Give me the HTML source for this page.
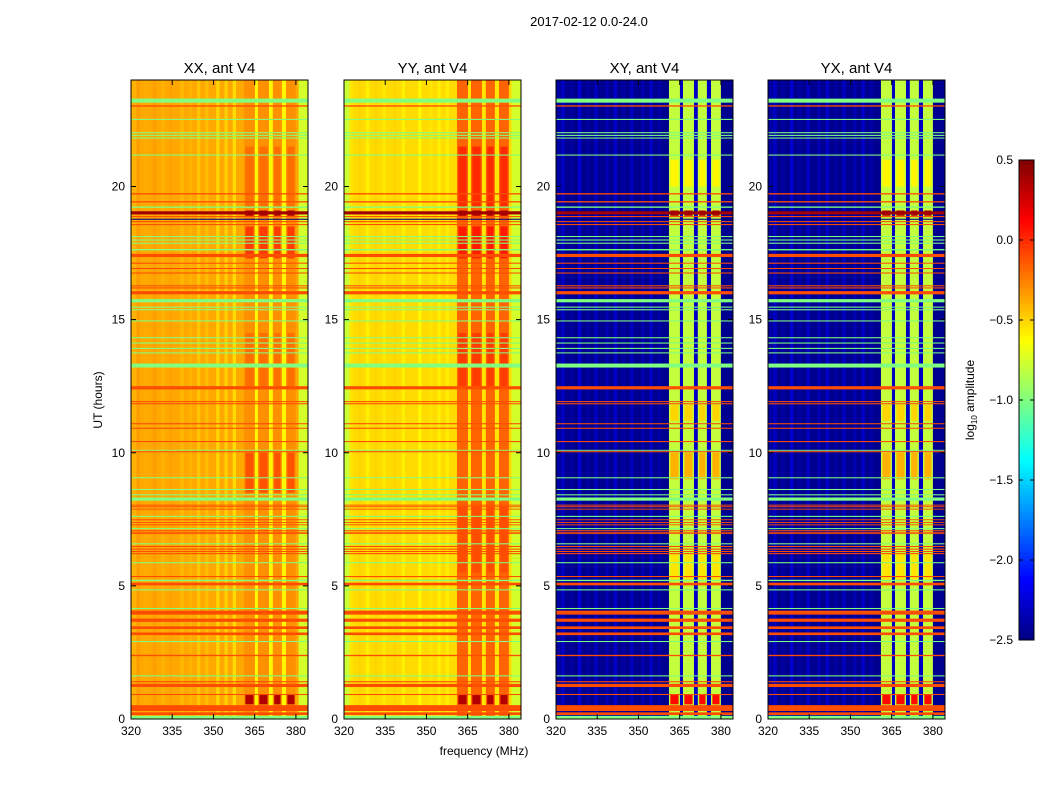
<!DOCTYPE html>
<html><head><meta charset="utf-8"><style>
body{margin:0;background:#fff;}
svg{display:block;font-family:"Liberation Sans","DejaVu Sans",sans-serif;}
</style></head><body>
<svg id="fig" width="1050" height="800" viewBox="0 0 1050 800">
<rect width="1050" height="800" fill="#fff"/>
<text x="589" y="26" font-size="13" text-anchor="middle">2017-02-12 0.0-24.0</text>
<text x="484" y="755" font-size="12" text-anchor="middle">frequency (MHz)</text>
<text transform="translate(102,400) rotate(-90)" font-size="12" text-anchor="middle">UT (hours)</text>
<text transform="translate(974,400) rotate(-90)" font-size="12" text-anchor="middle">log<tspan font-size="8" dy="3">10</tspan><tspan dy="-3"> amplitude</tspan></text>
<g id="panels"></g>
<g id="cbar"></g>
</svg>
<script>
// ---- data ----
const panelTitles = ["XX, ant V4","YY, ant V4","XY, ant V4","YX, ant V4"];
const baseValues = [-0.37, -0.52, -2.45, -2.45];
const leftEdgeValues = [-0.4, -0.78, -2.4, -2.4];
const rightEdgeValues = [-0.75, -0.75, -2.45, -2.45];
const bandValues = [-0.3, -0.17, -0.8, -0.8];
const gapValues = [-0.6, -0.55, -2.3, -2.3];
const bandStarts = [361.1, 366.2, 371.6, 376.4];
const bandEnds = [365.1, 370.2, 374.9, 380.0];
const streakFreqs = [322,325,328,331,334,338,341,344,347,351,354,357];
const streakValues = [[-0.33,-0.38,-0.34,-0.4,-0.35,-0.42,-0.4,-0.45,-0.43,-0.5,-0.48,-0.52],
                      [-0.55,-0.5,-0.58,-0.5,-0.56,-0.5,-0.58,-0.52,-0.6,-0.55,-0.58,-0.57],
                      [-2.3,-2.4,-2.25,-2.4,-2.3,-2.35,-2.28,-2.4,-2.3,-2.35,-2.28,-2.38],
                      [-2.3,-2.4,-2.25,-2.4,-2.3,-2.35,-2.28,-2.4,-2.3,-2.35,-2.28,-2.38]];
// patches inside bands: panel, h0, h1, value
const patchPanel = [0,0,0,0,1,1,1,1,2,2,2,2,3,3,3,3,0,1,2,3,0,1,2,3];
const patchH0 = [17.3,19.2,12.5,8.5, 17.3,19.2,12.5,5.5, 9.0,5.2,11.2,20.0, 9.0,5.2,11.2,20.0, 0.55,0.55,0.55,0.55, 18.9,18.9,18.9,18.9];
const patchH1 = [18.5,21.5,14.5,10.0, 18.5,21.5,14.5,8.0, 10.0,6.2,11.8,21.0, 10.0,6.2,11.8,21.0, 0.9,0.9,0.9,0.9, 19.1,19.1,19.1,19.1];
const patchValues = [-0.05,-0.2,-0.2,-0.12, 0.05,0.0,-0.05,-0.1, -0.4,-0.55,-0.5,-0.6, -0.4,-0.55,-0.5,-0.6, 0.35,0.35,0.1,0.1, 0.35,0.35,0.35,0.35];
// horizontal RFI stripes (hours, thickness in hours, value)
const stripeHours = [0,0.15,0.3,0.9,1.2,1.38,1.6,2.36,2.89,3.15,3.38,3.65,3.92,4.13,4.83,5.02,5.18,5.33,5.85,6.19,6.27,6.36,6.46,6.56,6.95,7.0,7.06,7.13,7.28,7.37,7.47,7.59,7.87,7.96,8.02,8.2,8.4,8.6,9.04,10.02,10.08,10.4,10.9,11.07,11.82,11.9,12.38,13.2,13.73,13.9,14.1,14.3,14.93,15.35,15.45,15.65,15.95,16.17,16.25,16.73,16.9,17.1,17.35,17.6,17.85,17.97,18.1,18.55,18.66,18.75,18.85,18.95,19.2,19.4,19.7,21.16,21.8,21.9,22.0,22.5,23.0,23.15];
const stripeWidths = [0.12,0.1,0.22,0.04,0.12,0.04,0.04,0.05,0.04,0.1,0.1,0.12,0.15,0.04,0.04,0.1,0.05,0.04,0.04,0.04,0.04,0.04,0.04,0.04,0.03,0.03,0.03,0.04,0.03,0.03,0.03,0.04,0.03,0.03,0.03,0.12,0.04,0.04,0.04,0.04,0.03,0.04,0.04,0.04,0.04,0.04,0.12,0.15,0.04,0.04,0.04,0.04,0.04,0.04,0.04,0.12,0.12,0.04,0.04,0.04,0.04,0.04,0.12,0.05,0.04,0.04,0.04,0.04,0.04,0.04,0.04,0.12,0.05,0.05,0.05,0.04,0.04,0.04,0.04,0.04,0.05,0.15];
const stripeValues = [-1,-0.1,-0.1,-0.1,-0.1,-0.1,-1,-0.1,-1,-0.1,-0.1,-0.1,-0.1,-1,-1,-0.1,-1,-0.1,-1,-0.1,-0.1,-0.1,-0.1,-1,-0.1,-0.1,-0.1,-1,-0.1,-0.1,-0.1,-1,-0.1,-0.1,-0.1,-1,-1,-1,-1,-0.1,-1,-0.1,-0.1,-0.1,-0.1,-0.1,-0.1,-1,-1,-1,-1,-1,-1,-1,-1,-1,-0.1,-0.1,-0.1,-0.1,-0.1,-0.1,-0.1,-1,-1,-1,-1,-0.1,-0.1,-2.5,-0.1,0.4,-1,-0.1,-0.1,-1,-1,-1,-1,-1,-0.1,-1];
const xTicks = [320,335,350,365,380];
const yTicks = [0,5,10,15,20];
const cbTicks = [0.5,0.0,-0.5,-1.0,-1.5,-2.0,-2.5];
const cbLabels = ["0.5","0.0","\u22120.5","\u22121.0","\u22121.5","\u22122.0","\u22122.5"];

// ---- layout ----
const NS = "http://www.w3.org/2000/svg";
const panelX = [131,344,556,768], PW = 177, PT = 80, PB = 719;
const FMIN = 320, FMAX = 384.4, HMIN = 0, HMAX = 24;
const VMIN = -2.5, VMAX = 0.5;
function xs(p,f){ return panelX[p] + (f-FMIN)/(FMAX-FMIN)*PW; }
function ys(h){ return PB - (h-HMIN)/(HMAX-HMIN)*(PB-PT); }
function jet(v){
  let t = Math.max(0,Math.min(1,(v-VMIN)/(VMAX-VMIN)));
  const c = x => Math.round(255*Math.max(0,Math.min(1,x)));
  return `rgb(${c(1.5-Math.abs(4*t-3))},${c(1.5-Math.abs(4*t-2))},${c(1.5-Math.abs(4*t-1))})`;
}
function mk(tag, attrs, parent){
  const e = document.createElementNS(NS, tag);
  for (const k in attrs) e.setAttribute(k, attrs[k]);
  parent.appendChild(e); return e;
}
function rectF(g,p,f0,f1,h0,h1,v){
  return mk("rect",{x:xs(p,f0),y:ys(h1),width:Math.max(0.5,xs(p,f1)-xs(p,f0)),height:Math.max(0.9,ys(h0)-ys(h1)),fill:jet(v)},g);
}
const root = document.getElementById("panels");
for (let p=0;p<4;p++){
  const g = mk("g",{},root);
  
  
  rectF(g,p,FMIN,FMAX,0,24,baseValues[p]);
  rectF(g,p,FMIN,323,0,24,leftEdgeValues[p]);
  for (let i=0;i<streakFreqs.length;i++){
    const s = rectF(g,p,streakFreqs[i],streakFreqs[i]+1.2,0,24,streakValues[p][i]);
    
    
  }
  rectF(g,p,bandStarts[0],bandEnds[bandEnds.length-1],0,24,gapValues[p]);
  rectF(g,p,381,FMAX,0,24,rightEdgeValues[p]);
  for (let b=0;b<bandStarts.length;b++){
    const r = rectF(g,p,bandStarts[b],bandEnds[b],0,24,bandValues[p]);
    
    
  }
  for (let k=0;k<patchPanel.length;k++){
    if (patchPanel[k]!==p) continue;
    for (let b=0;b<bandStarts.length;b++){
      const r = rectF(g,p,bandStarts[b]+0.5,bandEnds[b]-0.5,patchH0[k],patchH1[k],patchValues[k]);
      
      
    }
  }
  for (let i=0;i<stripeHours.length;i++){
    const r = rectF(g,p,FMIN,FMAX,stripeHours[i],stripeHours[i]+stripeWidths[i],stripeValues[i]);
    
    
  }
  const fr = mk("rect",{x:panelX[p],y:PT,width:PW,height:PB-PT,fill:"none",stroke:"#000","stroke-width":1},g);
  
  
  const t = mk("text",{x:panelX[p]+PW/2,y:73,"font-size":15,"text-anchor":"middle"},g);
  t.textContent = panelTitles[p];
  
  
  for (const f of xTicks){
    const x = xs(p,f);
    mk("line",{x1:x,x2:x,y1:PB,y2:PB-5,stroke:"#000"},g);
    mk("line",{x1:x,x2:x,y1:PT,y2:PT+5,stroke:"#000"},g);
    const l = mk("text",{x:x,y:PB+16,"font-size":12,"text-anchor":"middle"},g);
    l.textContent = f;
    
    
  }
  for (const h of yTicks){
    const y = ys(h);
    mk("line",{x1:panelX[p],x2:panelX[p]+5,y1:y,y2:y,stroke:"#000"},g);
    mk("line",{x1:panelX[p]+PW,x2:panelX[p]+PW-5,y1:y,y2:y,stroke:"#000"},g);
    const l = mk("text",{x:panelX[p]-6,y:y+4,"font-size":12,"text-anchor":"end"},g);
    l.textContent = h;
    
    
  }
}
// colorbar
const cb = document.getElementById("cbar");


const CX = 1019, CW = 15, CT = 160, CB = 640;
function cy(v){ return CB - (v-VMIN)/(VMAX-VMIN)*(CB-CT); }
for (let i=0;i<120;i++){
  const v0 = VMIN + i*(VMAX-VMIN)/120, v1 = VMIN + (i+1)*(VMAX-VMIN)/120;
  mk("rect",{x:CX,y:cy(v1),width:CW,height:cy(v0)-cy(v1)+0.5,fill:jet((v0+v1)/2)},cb);
}
mk("rect",{x:CX,y:CT,width:CW,height:CB-CT,fill:"none",stroke:"#000"},cb);
for (let i=0;i<cbTicks.length;i++){
  const y = cy(cbTicks[i]);
  mk("line",{x1:CX,x2:CX+4,y1:y,y2:y,stroke:"#000"},cb);
  mk("line",{x1:CX+CW,x2:CX+CW-4,y1:y,y2:y,stroke:"#000"},cb);
  const l = mk("text",{x:CX-6,y:y+4,"font-size":12,"text-anchor":"end"},cb);
  l.textContent = cbLabels[i];
  
  
}
</script>
</body></html>
